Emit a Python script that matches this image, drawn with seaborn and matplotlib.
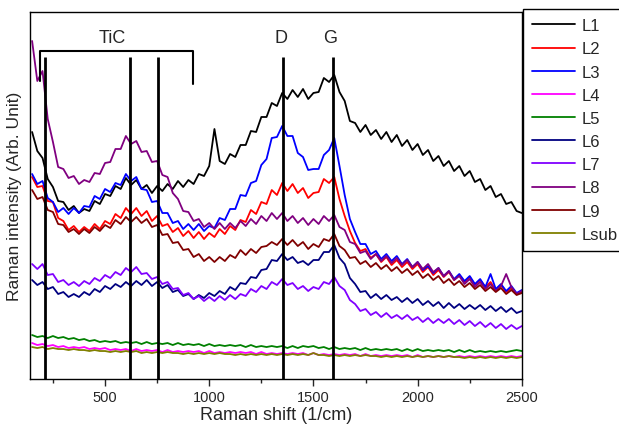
import matplotlib
matplotlib.use("Agg")
import matplotlib.pyplot as plt
import seaborn as sns
import numpy as np
import pandas as pd

# Raman shift grid (1/cm), values read every 25 1/cm
shift = np.arange(150, 2501, 25)

L1 = [247, 228, 221, 200, 192, 178, 177, 169, 173, 166,
      170, 168, 178, 175, 185, 183, 193, 190, 201, 194,
      199, 190, 194, 186, 193, 188, 195, 190, 198, 192,
      199, 195, 205, 203, 213, 250, 218, 215, 225, 222,
      234, 234, 248, 247, 262, 262, 276, 273, 286, 280,
      289, 282, 290, 280, 286, 287, 301, 297, 304, 287,
      278, 258, 256, 247, 254, 244, 249, 240, 247, 237,
      244, 233, 239, 229, 235, 224, 229, 218, 223, 213,
      218, 208, 213, 203, 208, 197, 200, 189, 193, 182,
      185, 175, 177, 168, 166]
L2 = [202, 192, 193, 178, 177, 161, 158, 149, 153, 147,
      152, 148, 155, 150, 158, 155, 165, 161, 171, 165,
      171, 163, 168, 158, 163, 153, 155, 147, 151, 143,
      148, 141, 147, 140, 146, 142, 150, 145, 153, 149,
      159, 157, 169, 165, 177, 175, 189, 184, 196, 188,
      195, 186, 191, 181, 186, 187, 200, 196, 202, 180,
      163, 148, 136, 128, 130, 121, 125, 117, 122, 114,
      119, 112, 117, 110, 115, 107, 112, 104, 109, 102,
      107, 99, 104, 97, 102, 94, 99, 92, 97, 89,
      94, 87, 91, 85, 87]
L3 = [205, 195, 198, 181, 177, 167, 171, 165, 171, 166,
      173, 172, 183, 180, 190, 187, 196, 194, 205, 198,
      202, 190, 189, 177, 178, 166, 166, 156, 158, 150,
      155, 149, 155, 148, 153, 151, 161, 159, 170, 170,
      184, 183, 196, 198, 214, 220, 241, 242, 253, 243,
      243, 226, 222, 209, 210, 210, 224, 229, 241, 213,
      184, 160, 147, 135, 135, 125, 128, 120, 125, 118,
      123, 115, 120, 112, 117, 109, 113, 106, 111, 103,
      108, 100, 105, 98, 103, 95, 100, 92, 105, 90,
      95, 88, 93, 86, 89]
L4 = [36, 34, 35, 33, 34, 32, 33, 31, 32, 31,
      32, 30, 31, 30, 31, 29, 30, 29, 30, 28,
      30, 28, 29, 28, 29, 27, 29, 27, 28, 27,
      28, 27, 28, 26, 28, 26, 27, 26, 27, 26,
      27, 26, 27, 25, 27, 25, 26, 25, 26, 25,
      26, 25, 26, 24, 26, 24, 25, 24, 25, 24,
      25, 24, 25, 23, 25, 23, 24, 23, 24, 23,
      24, 23, 24, 22, 24, 22, 23, 22, 23, 22,
      23, 22, 23, 22, 23, 22, 23, 22, 23, 22,
      23, 22, 23, 22, 23]
L5 = [44, 42, 43, 41, 43, 41, 42, 40, 41, 39,
      40, 38, 39, 37, 38, 37, 38, 36, 37, 36,
      37, 35, 37, 35, 36, 35, 36, 34, 36, 34,
      35, 34, 35, 33, 35, 33, 34, 33, 34, 33,
      34, 32, 34, 32, 33, 32, 33, 32, 33, 31,
      33, 31, 33, 32, 33, 31, 32, 30, 32, 30,
      31, 30, 31, 29, 31, 29, 30, 29, 30, 29,
      30, 28, 30, 28, 30, 28, 29, 28, 29, 28,
      29, 27, 29, 27, 29, 27, 28, 27, 28, 27,
      28, 27, 28, 29, 28]
L6 = [99, 94, 97, 90, 92, 85, 87, 82, 85, 82,
      87, 84, 90, 87, 93, 90, 95, 92, 97, 93,
      98, 94, 99, 93, 97, 91, 94, 87, 89, 83,
      85, 80, 84, 81, 86, 83, 88, 85, 92, 89,
      96, 95, 102, 101, 109, 110, 119, 118, 125, 119,
      122, 116, 118, 114, 119, 119, 127, 127, 134, 121,
      115, 101, 95, 87, 88, 81, 85, 80, 84, 79,
      82, 77, 81, 76, 80, 74, 78, 73, 77, 71,
      76, 71, 75, 70, 74, 70, 74, 69, 73, 68,
      72, 67, 71, 66, 68]
L7 = [115, 110, 115, 104, 105, 97, 99, 94, 97, 93,
      98, 95, 101, 98, 104, 101, 107, 104, 111, 107,
      112, 105, 106, 100, 102, 95, 97, 90, 91, 84,
      86, 80, 83, 78, 82, 78, 83, 79, 84, 80,
      85, 83, 90, 87, 93, 90, 97, 94, 100, 94,
      96, 90, 93, 88, 92, 90, 97, 95, 102, 93,
      89, 79, 75, 68, 70, 64, 67, 62, 66, 61,
      64, 60, 64, 59, 62, 57, 61, 56, 60, 56,
      60, 55, 59, 54, 58, 53, 57, 52, 56, 51,
      55, 50, 54, 50, 53]
L8 = [338, 298, 308, 260, 237, 212, 210, 201, 203, 195,
      199, 197, 206, 205, 216, 217, 230, 230, 243, 235,
      238, 227, 228, 217, 218, 204, 202, 186, 180, 168,
      167, 158, 160, 152, 156, 150, 156, 150, 156, 151,
      158, 153, 160, 155, 163, 158, 166, 160, 166, 158,
      163, 156, 161, 154, 160, 155, 163, 158, 164, 152,
      149, 137, 135, 126, 128, 120, 125, 118, 123, 116,
      121, 114, 119, 112, 117, 110, 115, 107, 111, 103,
      108, 99, 103, 95, 100, 92, 97, 90, 95, 88,
      93, 105, 92, 85, 88]
L9 = [189, 180, 182, 169, 167, 155, 154, 147, 150, 145,
      150, 146, 152, 148, 154, 151, 159, 155, 162, 157,
      162, 156, 160, 152, 154, 144, 145, 136, 137, 129,
      130, 122, 125, 118, 122, 117, 122, 118, 124, 121,
      129, 124, 130, 126, 132, 133, 137, 134, 140, 134,
      139, 133, 137, 130, 135, 132, 140, 138, 145, 133,
      129, 121, 122, 115, 118, 112, 116, 110, 114, 108,
      112, 106, 110, 104, 108, 101, 105, 99, 103, 96,
      100, 94, 98, 92, 96, 90, 94, 88, 92, 87,
      91, 85, 89, 84, 86]
Lsub = [32, 31, 32, 30, 31, 30, 30, 29, 30, 29,
        29, 28, 29, 28, 28, 27, 28, 27, 28, 27,
        28, 26, 27, 26, 27, 26, 27, 26, 26, 25,
        26, 25, 26, 25, 26, 25, 26, 25, 25, 24,
        25, 24, 25, 24, 25, 24, 25, 24, 25, 24,
        25, 24, 25, 24, 26, 24, 24, 23, 24, 23,
        24, 23, 24, 23, 24, 23, 23, 22, 23, 22,
        23, 22, 23, 22, 23, 22, 23, 22, 23, 22,
        23, 22, 22, 21, 22, 21, 22, 21, 22, 21,
        22, 21, 22, 21, 22]

names = ["L1", "L2", "L3", "L4", "L5", "L6", "L7", "L8", "L9", "Lsub"]
series = [L1, L2, L3, L4, L5, L6, L7, L8, L9, Lsub]
colors = ["#000000", "#ff0000", "#0000ff", "#ff00ff", "#008000",
          "#000080", "#8000ff", "#800080", "#800000", "#808000"]

tic_peaks = [212, 620, 754]
d_peak = 1354
g_peak = 1594

df = pd.concat([pd.DataFrame({"shift": shift, "intensity": s, "sample": n})
                for n, s in zip(names, series)])

sns.set_theme(style="ticks")
plt.rcParams["font.family"] = ["Liberation Sans", "DejaVu Sans"]

fig = plt.figure(figsize=(6.19, 4.27), dpi=100)
ax = fig.add_axes([0.0485, 0.110, 0.7945, 0.8596])

sns.lineplot(data=df, x="shift", y="intensity", hue="sample", hue_order=names,
             palette=dict(zip(names, colors)), sort=False, linewidth=1.3, ax=ax)

# peak markers
ax.vlines(tic_peaks + [d_peak, g_peak], 0, 322, color="black", linewidth=2)
ax.plot([188, 188, 923, 923], [298, 328, 328, 295], color="black", linewidth=1.5)
ax.text(534, 341, "TiC", ha="center", va="center", fontsize=13)
ax.text(1344, 341, "D", ha="center", va="center", fontsize=13)
ax.text(1580, 341, "G", ha="center", va="center", fontsize=13)

ax.set_xlim(140, 2500)
ax.set_ylim(0, 367)
ax.set_xticks([500, 1000, 1500, 2000, 2500])
ax.set_xticks([250, 750, 1250, 1750, 2250], minor=True)
ax.set_yticks([])
ax.tick_params(axis="x", which="major", length=5, width=1, labelsize=10.5, pad=3)
ax.tick_params(axis="x", which="minor", length=3, width=1)
for sp in ax.spines.values():
    sp.set_visible(True)
    sp.set_color("black")
    sp.set_linewidth(1)

ax.set_xlabel("Raman shift (1/cm)", fontsize=13, labelpad=1)
ax.set_ylabel("Raman intensity (Arb. Unit)", fontsize=12.5, labelpad=6)

ax.legend(loc="upper left", bbox_to_anchor=(1.002, 1.008), borderaxespad=0,
          fontsize=12, frameon=True, fancybox=False, edgecolor="black",
          framealpha=1, handlelength=2.6, handletextpad=0.35, labelspacing=0.49,
          borderpad=0.55)

fig.savefig("out.png", dpi=100)
